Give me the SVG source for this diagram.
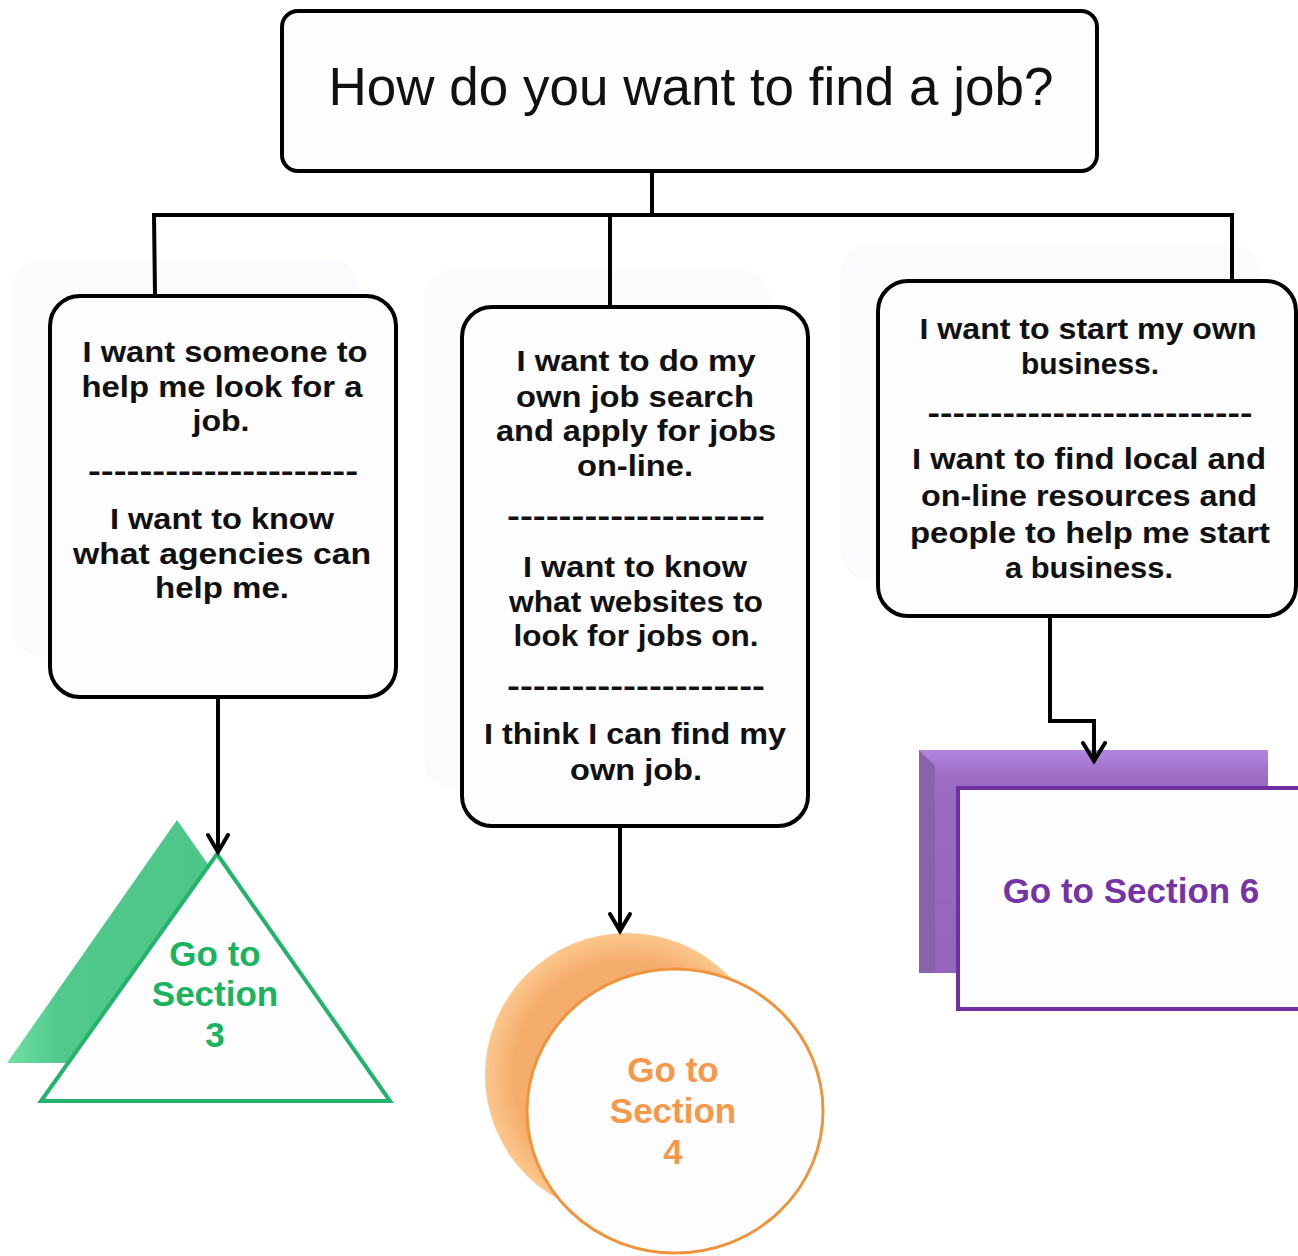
<svg xmlns="http://www.w3.org/2000/svg" width="1298" height="1256" viewBox="0 0 1298 1256">
<style>
.box{fill:#fdfcfe;stroke:#000;stroke-width:4}
.ghost{fill:#fbfbfd;stroke:none}
.t{font-family:"Liberation Sans",Arial,sans-serif;font-weight:bold;font-size:30px;fill:#111;text-anchor:middle}
.title{font-family:"Liberation Sans",Arial,sans-serif;font-size:53px;fill:#111;text-anchor:middle}
.conn{fill:none;stroke:#000;stroke-width:4;stroke-linejoin:miter}
.head{fill:none;stroke:#000;stroke-width:4;stroke-linecap:round;stroke-linejoin:miter}
.sec{font-family:"Liberation Sans",Arial,sans-serif;font-weight:bold;font-size:35px;text-anchor:middle}
</style>
<defs>
<linearGradient id="gtri" x1="0" y1="0" x2="1" y2="0">
<stop offset="0" stop-color="#6fe0a6"/>
<stop offset="0.15" stop-color="#52c98c"/>
<stop offset="0.85" stop-color="#4cc487"/>
<stop offset="1" stop-color="#7cecb2"/>
</linearGradient>
<radialGradient id="gcir" cx="0.5" cy="0.5" r="0.5">
<stop offset="0.8" stop-color="#f5ad6d"/>
<stop offset="1" stop-color="#fcc78d"/>
</radialGradient>
<linearGradient id="gpur" x1="0" y1="0" x2="0" y2="1">
<stop offset="0" stop-color="#b386df"/>
<stop offset="0.12" stop-color="#9c6cc4"/>
<stop offset="1" stop-color="#9565bd"/>
</linearGradient>
</defs>
<rect width="1298" height="1256" fill="#ffffff"/>

<g id="ghosts">
<rect class="ghost" x="12" y="259" width="346" height="398" rx="30"/>
<rect class="ghost" x="424" y="270" width="346" height="519" rx="30"/>
<rect class="ghost" x="840" y="244" width="420" height="336" rx="30"/>
</g>

<g id="n-question">
<rect class="box" x="282" y="11" width="815" height="160" rx="16"/>
<text class="title" x="691" y="105">How do you want to find a job?</text>
</g>

<g id="n-help">
<rect class="box" x="50" y="296" width="346" height="401" rx="30"/>
<text class="t" x="225" y="362" textLength="285" lengthAdjust="spacingAndGlyphs">I want someone to</text>
<text class="t" x="222" y="397" textLength="281" lengthAdjust="spacingAndGlyphs">help me look for a</text>
<text class="t" x="221" y="431" textLength="57" lengthAdjust="spacingAndGlyphs">job.</text>
<text class="t" x="223" y="481" textLength="270" lengthAdjust="spacingAndGlyphs">---------------------</text>
<text class="t" x="222" y="529" textLength="224" lengthAdjust="spacingAndGlyphs">I want to know</text>
<text class="t" x="222" y="564" textLength="298" lengthAdjust="spacingAndGlyphs">what agencies can</text>
<text class="t" x="222" y="598" textLength="134" lengthAdjust="spacingAndGlyphs">help me.</text>
</g>

<g id="n-own">
<rect class="box" x="462" y="307" width="346" height="519" rx="30"/>
<text class="t" x="636" y="371" textLength="239" lengthAdjust="spacingAndGlyphs">I want to do my</text>
<text class="t" x="635" y="407" textLength="238" lengthAdjust="spacingAndGlyphs">own job search</text>
<text class="t" x="636" y="441" textLength="280" lengthAdjust="spacingAndGlyphs">and apply for jobs</text>
<text class="t" x="635" y="476" textLength="116" lengthAdjust="spacingAndGlyphs">on-line.</text>
<text class="t" x="636" y="526" textLength="258" lengthAdjust="spacingAndGlyphs">--------------------</text>
<text class="t" x="635" y="577" textLength="224" lengthAdjust="spacingAndGlyphs">I want to know</text>
<text class="t" x="636" y="612" textLength="254" lengthAdjust="spacingAndGlyphs">what websites to</text>
<text class="t" x="636" y="646" textLength="245" lengthAdjust="spacingAndGlyphs">look for jobs on.</text>
<text class="t" x="636" y="696" textLength="258" lengthAdjust="spacingAndGlyphs">--------------------</text>
<text class="t" x="635" y="744" textLength="302" lengthAdjust="spacingAndGlyphs">I think I can find my</text>
<text class="t" x="636" y="780" textLength="132" lengthAdjust="spacingAndGlyphs">own job.</text>
</g>

<g id="n-business">
<rect class="box" x="878" y="281" width="418" height="335" rx="30"/>
<text class="t" x="1088" y="339" textLength="337" lengthAdjust="spacingAndGlyphs">I want to start my own</text>
<text class="t" x="1090" y="374" textLength="138" lengthAdjust="spacingAndGlyphs">business.</text>
<text class="t" x="1090" y="423" textLength="325" lengthAdjust="spacingAndGlyphs">--------------------------</text>
<text class="t" x="1089" y="469" textLength="354" lengthAdjust="spacingAndGlyphs">I want to find local and</text>
<text class="t" x="1089" y="506" textLength="336" lengthAdjust="spacingAndGlyphs">on-line resources and</text>
<text class="t" x="1090" y="543" textLength="360" lengthAdjust="spacingAndGlyphs">people to help me start</text>
<text class="t" x="1089" y="578" textLength="168" lengthAdjust="spacingAndGlyphs">a business.</text>
</g>

<g id="n-section3">
<polygon points="177,820 347,1063 7,1063" fill="url(#gtri)"/>
<polygon points="217,854 390,1101 41,1101" fill="#fdfcfe" stroke="#22b46a" stroke-width="4" stroke-linejoin="miter"/>
<text class="sec" x="215" y="966" fill="#1ab35e">Go to</text>
<text class="sec" x="215" y="1006" fill="#1ab35e">Section</text>
<text class="sec" x="215" y="1047" fill="#1ab35e">3</text>
</g>

<g id="n-section4">
<circle cx="627" cy="1075" r="142" fill="url(#gcir)"/>
<ellipse cx="675" cy="1111" rx="148" ry="142" fill="#fdfcfe" stroke="#f0943a" stroke-width="3"/>
<text class="sec" x="673" y="1082" fill="#f5984a">Go to</text>
<text class="sec" x="673" y="1123" fill="#f5984a">Section</text>
<text class="sec" x="673" y="1164" fill="#f5984a">4</text>
</g>

<g id="n-section6">
<rect x="919" y="750" width="349" height="223" fill="url(#gpur)"/>
<polygon points="919,750 935,766 935,973 919,973" fill="#8862aa"/>
<rect x="958" y="788" width="344" height="221" fill="#fdfcfe" stroke="#7030a0" stroke-width="4"/>
<text class="sec" x="1131" y="903" fill="#7434a6">Go to Section 6</text>
</g>

<g id="connectors">
<polyline class="conn" points="652,173 652,215"/>
<polyline class="conn" points="155,294 154,215 1232,215 1232,279"/>
<polyline class="conn" points="610,215 610,305"/>
<polyline class="conn" points="218,699 218,851"/>
<polyline class="head" points="208,835 218,852 228,835"/>
<polyline class="conn" points="620,828 620,931"/>
<polyline class="head" points="610,914 620,931 630,914"/>
<polyline class="conn" points="1050,618 1050,721 1094,721 1094,760"/>
<polyline class="head" points="1083,743 1094,761 1105,743"/>
</g>
</svg>
